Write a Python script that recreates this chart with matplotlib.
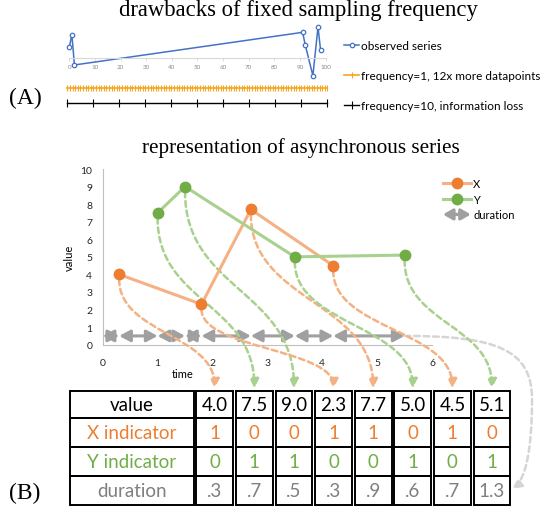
import numpy as np
import matplotlib.pyplot as plt
from matplotlib.patches import FancyArrowPatch, Rectangle, Patch
from matplotlib.path import Path
from matplotlib.legend_handler import HandlerPatch

plt.rcParams['font.family'] = ['Lato', 'DejaVu Sans']
SERIF = ['Liberation Serif', 'DejaVu Serif']

# ---- panel A data ----
obs_t = [0, 1, 2, 91, 92, 95, 97, 98]
obs_v = [3.3, 7.1, -2.0, 7.8, 4.1, -5.2, 9.4, 2.5]
freq1_t = np.arange(0, 101, 1)     # sampling every 1
freq10_t = np.arange(0, 101, 10)   # sampling every 10

# ---- panel B data ----
event_time = [0.3, 1.0, 1.5, 1.8, 2.7, 3.5, 4.2, 5.5]
event_value = [4.0, 7.5, 9.0, 2.3, 7.7, 5.0, 4.5, 5.1]
event_series = ['X', 'Y', 'Y', 'X', 'X', 'Y', 'X', 'Y']
duration_labels = ['.3', '.7', '.5', '.3', '.9', '.6', '.7', '1.3']
row_labels = ['value', 'X indicator', 'Y indicator', 'duration']

X_DARK, X_LIGHT = '#ED7D31', '#F4B183'
Y_DARK, Y_LIGHT = '#70AD47', '#A9D18E'
GREY, GREY_LIGHT = '#A0A0A0', '#D5D5D5'
TXT_GREY = '#7F7F7F'

W, H = 545, 510
fig = plt.figure(figsize=(W / 100, H / 100), dpi=100)


def box(x0, y0, x1, y1):
    # pixel box (origin top-left) -> figure fraction rect
    return [x0 / W, 1 - y1 / H, (x1 - x0) / W, (y1 - y0) / H]


# overlay in pixel coordinates for titles / table / connectors
ov = fig.add_axes([0, 0, 1, 1])
ov.set_xlim(0, W)
ov.set_ylim(H, 0)
ov.axis('off')

ov.text(298.5, 10.5, 'drawbacks of fixed sampling frequency', family=SERIF,
        fontsize=16.3, ha='center', va='center')
ov.text(300.5, 148, 'representation of asynchronous series', family=SERIF,
        fontsize=15.2, ha='center', va='center')
ov.text(8.7, 98, '(A)', family=SERIF, fontsize=17, ha='left', va='center')
ov.text(8.7, 493, '(B)', family=SERIF, fontsize=17, ha='left', va='center')

# ---- panel A: observed series ----
axA = fig.add_axes(box(69.3, 26, 325.7, 79.3))
axA.patch.set_alpha(0)
lineA, = axA.plot(obs_t, obs_v, color='#4472C4', lw=1.1, marker='o', ms=3.2,
                  mfc='white', mew=0.9, clip_on=False, label='observed series')
axA.set_xlim(0, 100)
axA.set_ylim(-6, 10)
for s in ['left', 'right', 'top']:
    axA.spines[s].set_visible(False)
axA.spines['bottom'].set_position(('data', 0))
axA.spines['bottom'].set_color('#D9D9D9')
axA.set_xticks(range(0, 101, 10))
axA.set_yticks([])
axA.tick_params(axis='x', length=2, width=0.6, color='#D9D9D9', labelsize=4.5,
                labelcolor='#8C8C8C', pad=2)

# sampling grids
axF = fig.add_axes(box(67.3, 74.6, 327.3, 118.7))
axF.patch.set_alpha(0)
lineF1, = axF.plot(freq1_t, np.ones(len(freq1_t)), color='#F8A41E', lw=1.2,
                   marker='|', ms=5, mew=0.8, clip_on=False,
                   label='frequency=1, 12x more datapoints')
lineF10, = axF.plot(freq10_t, np.zeros(len(freq10_t)), color='black', lw=1.0,
                    marker='|', ms=5.5, mew=0.8, clip_on=False,
                    label='frequency=10, information loss')
axF.set_xlim(0, 100)
axF.set_ylim(-1, 2)
axF.axis('off')

fig.legend(handles=[lineA, lineF1, lineF10], loc='upper left',
           bbox_to_anchor=(344 / W, 1 - 41 / H), frameon=False, fontsize=8.5,
           handlelength=1.3, handletextpad=0.15, labelspacing=1.6,
           borderpad=0, borderaxespad=0, numpoints=1)

# ---- panel B: asynchronous series ----
ax = fig.add_axes(box(102.7, 170, 432, 345.7))
ax.patch.set_alpha(0)
xt = [t for t, s in zip(event_time, event_series) if s == 'X']
xv = [v for v, s in zip(event_value, event_series) if s == 'X']
yt = [t for t, s in zip(event_time, event_series) if s == 'Y']
yv = [v for v, s in zip(event_value, event_series) if s == 'Y']
lx, = ax.plot(xt, xv, color=X_LIGHT, lw=2.2, marker='o', ms=7.5, mfc=X_DARK,
              mec=X_DARK, zorder=6, label='X')
ly, = ax.plot(yt, yv, color=Y_LIGHT, lw=2.2, marker='o', ms=7.5, mfc=Y_DARK,
              mec=Y_DARK, zorder=6, label='Y')

starts = [0] + event_time[:-1]
for a, b in zip(starts, event_time):
    ax.add_patch(FancyArrowPatch((a, 0.5), (b, 0.5),
                                 arrowstyle='<|-|>,head_length=6.5,head_width=3.5',
                                 lw=2.2, color=GREY, shrinkA=0, shrinkB=0,
                                 mutation_scale=1, zorder=3))

ax.set_xlim(0, 6)
ax.set_ylim(0, 10)
ax.set_xticks(range(0, 7))
ax.set_yticks(range(0, 11))
for s in ['right', 'top']:
    ax.spines[s].set_visible(False)
for s in ['left', 'bottom']:
    ax.spines[s].set_color('#BFBFBF')
    ax.spines[s].set_linewidth(0.8)
ax.tick_params(length=0, labelsize=7.5, labelcolor='#262626')
ax.tick_params(axis='y', pad=7.5)
ax.tick_params(axis='x', pad=9.5)
ax.set_ylabel('value', fontsize=8)
ax.yaxis.set_label_coords(-(102.7 - 75) / 329.3, 0.5)
ax.set_xlabel('time', fontsize=8)
ax.xaxis.set_label_coords((183 - 102.7) / 329.3, -(369 - 345.7) / 175.7)


def arrow_handle(legend, orig_handle, xdescent, ydescent, width, height, fontsize):
    y = height / 2 - ydescent
    return FancyArrowPatch((-xdescent, y), (-xdescent + width, y),
                           arrowstyle='<|-|>,head_length=5.5,head_width=3.2',
                           mutation_scale=1, shrinkA=0, shrinkB=0)


dur_handle = Patch(facecolor=GREY, edgecolor=GREY, lw=2.4, label='duration')
ax.legend(handles=[lx, ly, dur_handle], loc='upper left',
          bbox_to_anchor=(443 / W, 1 - 179 / H), bbox_transform=fig.transFigure,
          frameon=False, fontsize=8, handlelength=2.5, handletextpad=0.2,
          labelspacing=0.42, borderpad=0, borderaxespad=0, numpoints=1,
          handler_map={Patch: HandlerPatch(patch_func=arrow_handle)})

# ---- table ----
row_edges = [391.7, 419.3, 448.3, 477.3, 506]
head_x0, head_x1 = 69.5, 194.0
cell_x0, cell_w, cell_gap = 196.4, 36.8, 2.8
n = len(event_value)
col_left = [cell_x0 + i * (cell_w + cell_gap) for i in range(n)]
col_center = [c + cell_w / 2 for c in col_left]

value_txt = ['%.1f' % v for v in event_value]
x_ind = ['1' if s == 'X' else '0' for s in event_series]
y_ind = ['1' if s == 'Y' else '0' for s in event_series]
rows = [value_txt, x_ind, y_ind, duration_labels]
row_colors = ['black', X_DARK, Y_DARK, TXT_GREY]

for r in range(4):
    y0, y1 = row_edges[r], row_edges[r + 1]
    ov.add_patch(Rectangle((head_x0, y0), head_x1 - head_x0, y1 - y0,
                           fill=False, lw=1.4, ec='black'))
    ov.text((head_x0 + head_x1) / 2, (y0 + y1) / 2, row_labels[r],
            color=row_colors[r], fontsize=13.5, ha='center', va='center')
    for i in range(n):
        ov.add_patch(Rectangle((col_left[i], y0), cell_w, y1 - y0,
                               fill=False, lw=1.4, ec='black'))
        ov.text(col_center[i], (y0 + y1) / 2, rows[r][i], color=row_colors[r],
                fontsize=13.5, ha='center', va='center')

# ---- curved connectors from points to table columns ----
to_px = ax.transData + ov.transData.inverted()
dash = (0, (2.3, 1.5))
for i in range(n):
    x0, y0 = to_px.transform((event_time[i], event_value[i]))
    y0 += 5
    x1, y1 = col_center[i], 389.5
    ym = (y0 + y1) / 2
    p = Path([(x0, y0), (x0, ym), (x1, ym), (x1, y1)],
             [Path.MOVETO, Path.CURVE4, Path.CURVE4, Path.CURVE4])
    c = X_LIGHT if event_series[i] == 'X' else Y_LIGHT
    ax.add_artist(FancyArrowPatch(path=p, arrowstyle='-|>,head_length=5.5,head_width=2.6',
                                  mutation_scale=1, lw=1.8, linestyle=dash, color=c,
                                  transform=ov.transData, clip_on=False, zorder=4))

# grey connector: end of durations -> duration row
gx, gy = to_px.transform((event_time[-1], 0.5))
gp = Path([(gx, gy), (495, gy), (532, gy + 13), (532, 400),
           (532, 450), (526, 480), (512, 490)],
          [Path.MOVETO, Path.CURVE4, Path.CURVE4, Path.CURVE4,
           Path.CURVE4, Path.CURVE4, Path.CURVE4])
ax.add_artist(FancyArrowPatch(path=gp, arrowstyle='-|>,head_length=5.5,head_width=2.6',
                              mutation_scale=1, lw=1.8, linestyle=dash, color=GREY_LIGHT,
                              transform=ov.transData, clip_on=False, zorder=2))

fig.savefig('out.png', dpi=100)
